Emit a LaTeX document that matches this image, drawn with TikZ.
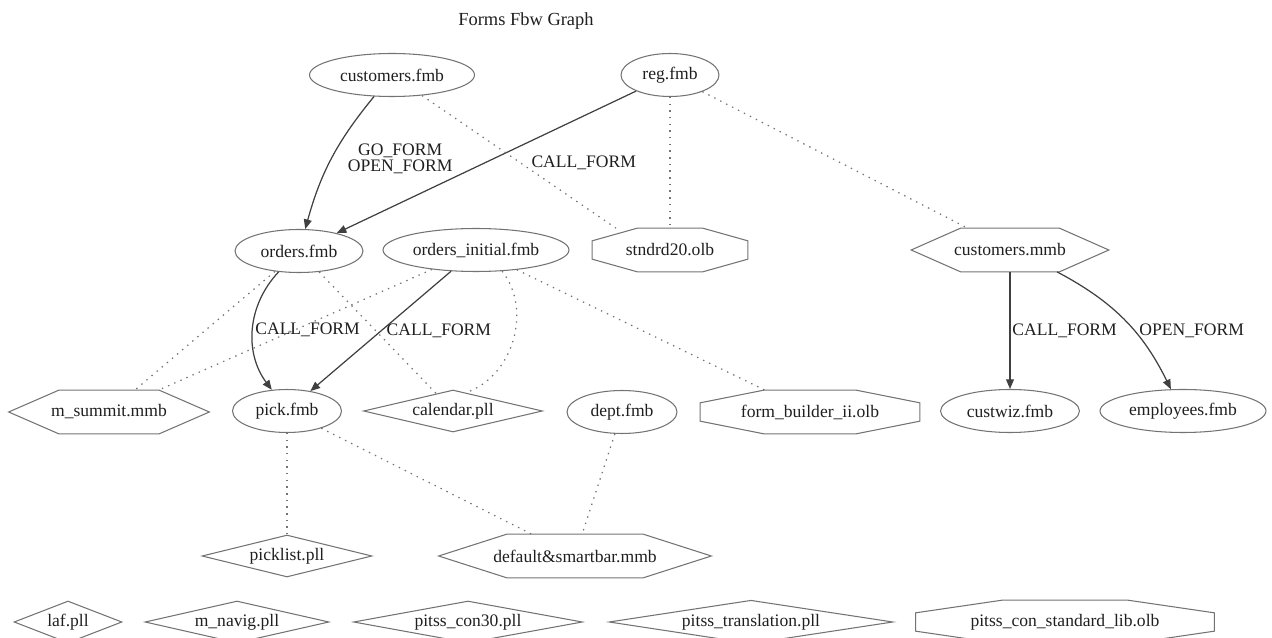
\documentclass[tikz,border=0pt]{standalone}
\usepackage{fontspec}
\setmainfont{Liberation Serif}
\usetikzlibrary{arrows.meta,positioning,calc,shapes.geometric}
\definecolor{gline}{gray}{0.45}
\definecolor{eline}{gray}{0.25}
\definecolor{txt}{gray}{0.12}

\begin{document}
\begin{tikzpicture}[
  x=0.02cm, y=-0.02cm, >={Triangle[length=5.5pt,width=4.5pt]},
  every node/.style={text=txt,font=\normalsize},
  fmb/.style={ellipse,draw=gline,line width=.6pt,inner sep=0pt,minimum height=.86cm},
  pll/.style={diamond,aspect=5,draw=gline,line width=.6pt,inner sep=0pt,minimum height=.84cm},
  mmb/.style={inner sep=0pt,minimum height=.86cm,append after command={\pgfextra{\let\shp=\tikzlastnode
      \pgfinterruptpath
      \draw[gline,line width=.6pt] (\shp.west) -- ($(\shp.north west)!.25!(\shp.north east)$)
        -- ($(\shp.north west)!.75!(\shp.north east)$) -- (\shp.east)
        -- ($(\shp.south west)!.75!(\shp.south east)$) -- ($(\shp.south west)!.25!(\shp.south east)$) -- cycle;
      \endpgfinterruptpath}}},
  olb/.style={inner sep=0pt,minimum height=.86cm,append after command={\pgfextra{\let\shp=\tikzlastnode
      \pgfinterruptpath
      \draw[gline,line width=.6pt] ($(\shp.north west)!.29!(\shp.north east)$) -- ($(\shp.north west)!.71!(\shp.north east)$)
        -- ($(\shp.north east)!.29!(\shp.south east)$) -- ($(\shp.north east)!.71!(\shp.south east)$)
        -- ($(\shp.south east)!.29!(\shp.south west)$) -- ($(\shp.south east)!.71!(\shp.south west)$)
        -- ($(\shp.south west)!.29!(\shp.north west)$) -- ($(\shp.south west)!.71!(\shp.north west)$) -- cycle;
      \endpgfinterruptpath}}},
  lbl/.style={inner sep=1pt},
  call/.style={->,draw=eline,line width=.7pt},
  dep/.style={draw=gline,line width=.7pt,dash pattern=on .8pt off 3pt}]
\useasboundingbox (0,0) rectangle (1272,638);

\node[font=\fontsize{10.5}{12}\selectfont] (title) at (526,21) {Forms Fbw Graph};

% top rows
\node[fmb,minimum width=3.3cm] (cfmb) at (392,75) {customers.fmb};
\node[fmb,minimum width=1.96cm] (reg) at (670,75) {reg.fmb};
\node[fmb,minimum width=2.56cm] (orders) at (299,251) {orders.fmb};
\node[fmb,minimum width=3.72cm] (ordinit) at (476,250) {orders\_initial.fmb};
\node[olb,minimum width=3.1cm] (std) at (670,250) {stndrd20.olb};
\node[mmb,minimum width=3.94cm] (cmmb) at (1010,250) {customers.mmb};

% middle row
\node[mmb,minimum width=4cm] (summit) at (109,412) {m\_summit.mmb};
\node[fmb,minimum width=2.18cm] (pick) at (287,411) {pick.fmb};
\node[pll,minimum width=3.58cm] (cal) at (453,411) {calendar.pll};
\node[fmb,minimum width=2.2cm] (dept) at (622,412) {dept.fmb};
\node[olb,minimum width=4.38cm] (fbo) at (810,412) {form\_builder\_ii.olb};
\node[fmb,minimum width=2.78cm] (custwiz) at (1010,411) {custwiz.fmb};
\node[fmb,minimum width=3.32cm] (emp) at (1183,411) {employees.fmb};

% lower rows
\node[pll,minimum width=3.4cm] (picklist) at (287,556) {picklist.pll};
\node[mmb,minimum width=5.44cm] (dsb) at (575,556) {default\&smartbar.mmb};
\node[pll,aspect=3,minimum width=2.16cm] (laf) at (68,622) {laf.pll};
\node[pll,minimum width=3.68cm] (navig) at (237,622) {m\_navig.pll};
\node[pll,minimum width=4.58cm] (con30) at (468,622) {pitss\_con30.pll};
\node[pll,minimum width=5.68cm] (trans) at (751,622) {pitss\_translation.pll};
\node[olb,minimum width=5.96cm] (pcsl) at (1065,622) {pitss\_con\_standard\_lib.olb};

% form calls
\draw[call] (cfmb) to[bend right=12] node[lbl,midway,right=.28cm,align=center,font=\fontsize{10}{9}\selectfont] {GO\_FORM\\OPEN\_FORM} (orders);
\draw[call] (reg) -- node[lbl,pos=.175,yshift=-.94cm] {CALL\_FORM} (orders);
\draw[call] (orders) to[bend right=40] node[lbl,midway,right] {CALL\_FORM} (pick);
\draw[call] (ordinit) -- node[lbl,midway,right=2pt] {CALL\_FORM} (pick);
\draw[call] (cmmb) -- node[lbl,midway,right] {CALL\_FORM} (custwiz);
\draw[call] (cmmb) to[bend left=18] node[lbl,midway,anchor=west,xshift=.25cm,yshift=-.21cm] {OPEN\_FORM} (emp);

% attached libraries
\draw[dep] (cfmb) -- (std.158);
\draw[dep] (reg) -- (std);
\draw[dep] (reg) -- (cmmb);
\draw[dep] (orders) -- (summit);
\draw[dep] (orders) -- (cal);
\draw[dep] (ordinit) -- (summit);
\draw[dep] (ordinit) to[bend left=55] (cal.55);
\draw[dep] (ordinit) -- (fbo);
\draw[dep] (pick) -- (picklist);
\draw[dep] (pick) -- (dsb);
\draw[dep] (dept) -- (dsb);
\end{tikzpicture}
\end{document}
